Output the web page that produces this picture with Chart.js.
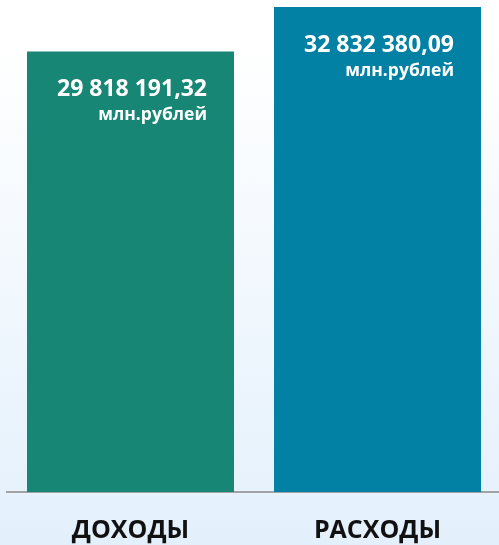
<!DOCTYPE html>
<html>
<head>
<meta charset="utf-8">
<script src="https://cdn.jsdelivr.net/npm/chart.js@4"></script>
<style>
  html, body { margin: 0; padding: 0; overflow: hidden; }
  body {
    width: 499px; height: 545px;
    background: linear-gradient(to bottom, #ffffff 0%, #ffffff 8%, #e3f0fc 100%);
  }
  #wrap { position: relative; width: 503px; height: 570px; }
</style>
</head>
<body>
<div id="wrap"><canvas id="budgetChart"></canvas></div>
<script>
// budget totals, млн. рублей
const categories = ['ДОХОДЫ', 'РАСХОДЫ'];
const amounts = [29818191.32, 32832380.09];
const unitLabel = 'млн.рублей';
const barColors = ['#178675', '#0381a4'];

function fmtRub(v) {
  const [intPart, frac] = v.toFixed(2).split('.');
  return intPart.replace(/\B(?=(\d{3})+(?!\d))/g, ' ') + ',' + frac;
}

// white value text inside the top-right corner of each bar
const valueLabels = {
  id: 'valueLabels',
  afterDatasetsDraw(chart) {
    const ctx = chart.ctx;
    const meta = chart.getDatasetMeta(0);
    ctx.save();
    ctx.fillStyle = '#ffffff';
    ctx.textAlign = 'right';
    ctx.textBaseline = 'alphabetic';
    meta.data.forEach((bar, i) => {
      const right = bar.x + bar.width / 2 - 27;
      ctx.font = 'bold 23px "Open Sans"';
      ctx.fillText(fmtRub(amounts[i]), right, bar.y + 45);
      ctx.font = 'bold 17.5px "Open Sans"';
      ctx.fillText(unitLabel, right, bar.y + 69);
    });
    ctx.restore();
  },
};

new Chart(document.getElementById('budgetChart'), {
  type: 'bar',
  data: {
    labels: categories,
    datasets: [{
      data: amounts,
      backgroundColor: barColors,
      barPercentage: 0.838,
      categoryPercentage: 1,
    }],
  },
  options: {
    responsive: true,
    maintainAspectRatio: false,
    animation: false,
    layout: { padding: { left: 7, right: 2, top: 0, bottom: 0 } },
    plugins: { legend: { display: false }, tooltip: { enabled: false } },
    scales: {
      y: { display: false, min: 0, max: 33300000 },
      x: {
        grid: { display: false, drawTicks: false },
        border: { display: true, color: '#a3a3a3', width: 2 },
        ticks: { color: '#111111', font: { size: 25, weight: 'bold', family: 'Open Sans' }, padding: 24 },
      },
    },
  },
  plugins: [valueLabels],
});
</script>
</body>
</html>
